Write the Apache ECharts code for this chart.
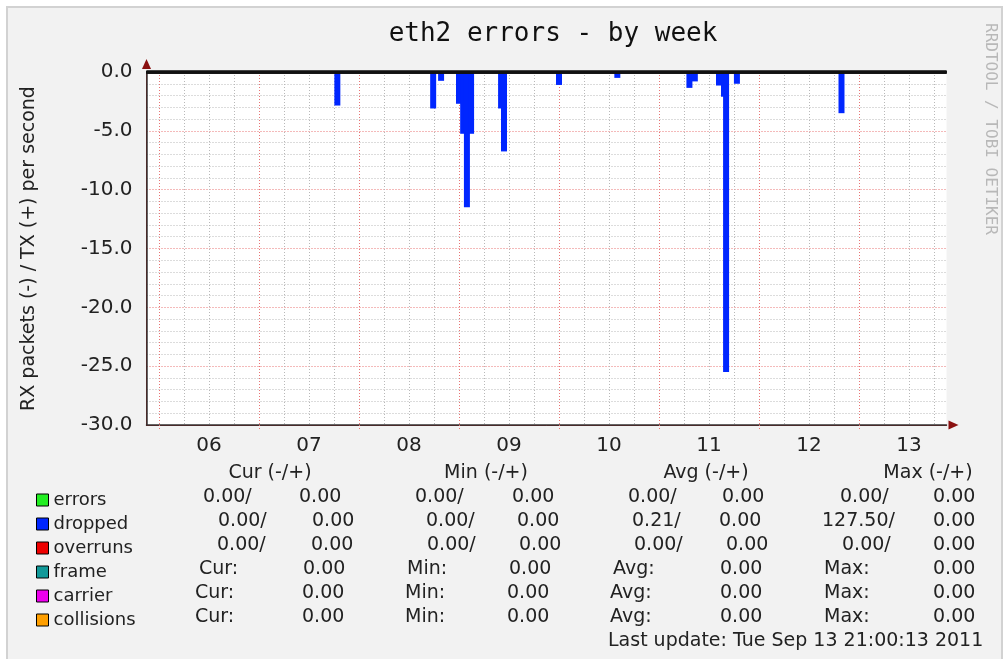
<!DOCTYPE html>
<html>
<head>
<meta charset="utf-8">
<title>eth2 errors - by week</title>
<script src="https://cdn.jsdelivr.net/npm/echarts@6/dist/echarts.min.js"></script>
<style>
    body { margin: 0; background: #fff; }
    #main { width: 1006px; height: 659px; }
</style>
</head>
<body>
<div id="main"></div>
<script>
// x = hours since Sep 06 00:00, graph shows 8 days ending Sep 13 21:00
var timeRange = [-3, 189];
var dayLabels = ['06', '07', '08', '09', '10', '11', '12', '13'];
var yTicks = [-30, 0, 5];   // min, max, step

// dropped (RX side, drawn negative)
var droppedHours  = [42.8, 65.8, 67.7, 72.0, 73.0, 73.9, 74.9, 82.1, 82.8, 96.0, 110.0, 127.3, 128.6, 134.4, 135.6, 136.1, 138.7, 163.8];
var droppedValues = [-2.85, -3.1, -0.75, -2.7, -5.25, -11.5, -5.25, -3.1, -6.75, -1.1, -0.5, -1.35, -0.8, -1.15, -2.1, -25.5, -1.0, -3.5];
var zeroValues = [0, 0];

var legendNames  = ['errors', 'dropped', 'overruns', 'frame', 'carrier', 'collisions'];
var legendColors = ['#22ee22', '#0026ff', '#ee0000', '#119999', '#ee00ee', '#ff9f00'];

var colHeaders = ['Cur (-/+)', 'Min (-/+)', 'Avg (-/+)', 'Max (-/+)'];
var tableRows = [
    ['0.00/', '0.00', '0.00/', '0.00', '0.00/', '0.00', '0.00/', '0.00'],
    ['0.00/', '0.00', '0.00/', '0.00', '0.21/', '0.00', '127.50/', '0.00'],
    ['0.00/', '0.00', '0.00/', '0.00', '0.00/', '0.00', '0.00/', '0.00'],
    ['Cur:', '0.00', 'Min:', '0.00', 'Avg:', '0.00', 'Max:', '0.00'],
    ['Cur:', '0.00', 'Min:', '0.00', 'Avg:', '0.00', 'Max:', '0.00'],
    ['Cur:', '0.00', 'Min:', '0.00', 'Avg:', '0.00', 'Max:', '0.00']
];
var lastUpdate = 'Last update: Tue Sep 13 21:00:13 2011';

// layout of the text table under the graph
var headerX = [270, 486, 706, 928];
var rowY = [497, 521, 545, 569, 593, 617];
var rowX = [
    [203, 299, 415, 512, 628, 722, 840, 933],
    [218, 312, 426, 517, 632, 719, 822, 933],
    [217, 311, 427, 519, 634, 726, 842, 933],
    [199, 303, 407, 509, 613, 720, 824, 933],
    [195, 302, 405, 507, 610, 720, 824, 933],
    [195, 302, 405, 507, 610, 720, 824, 933]
];

var FONT = 'DejaVu Sans';
var MONO = 'DejaVu Sans Mono';
var RED_GRID = '#e87474';
var GREY_GRID = '#b8b8b8';

// red line at each midnight, grey every 6h between, label at noon
var midnightHours = [];
var quarterHours = [];
var labelHours = [];
dayLabels.forEach(function (d, i) {
    midnightHours.push(i * 24);
    quarterHours.push(i * 24 + 6, i * 24 + 12, i * 24 + 18);
    labelHours.push(i * 24 + 12);
});

var droppedData = droppedHours.map(function (h, i) { return [h, droppedValues[i]]; });
var zeroData = timeRange.map(function (h, i) { return [h, zeroValues[i]]; });

var series = [];
legendNames.forEach(function (name, i) {
    if (name === 'dropped') {
        series.push({
            name: name, type: 'bar', xAxisIndex: 1, yAxisIndex: 1,
            data: droppedData, barWidth: 6,
            itemStyle: { color: legendColors[i] },
            z: 2
        });
    } else {
        series.push({
            name: name, type: 'line', xAxisIndex: 1, yAxisIndex: 1,
            data: zeroData, symbol: 'none',
            lineStyle: { color: '#111', width: 3 },
            itemStyle: { color: legendColors[i] },
            z: 3
        });
    }
});

var graphic = [
    { type: 'rect', shape: { x: 7, y: 7, width: 995, height: 660 },
      style: { fill: '#f2f2f2', stroke: '#d2d2d2', lineWidth: 2 }, z: -10 },
    { type: 'text', x: 990, y: 129, rotation: -Math.PI / 2,
      style: { text: 'RRDTOOL / TOBI OETIKER', x: 0, y: 0, align: 'center', verticalAlign: 'middle',
               font: '16px "' + MONO + '"', fill: '#b8b8b8' } },
    { type: 'text', x: 608, y: 641,
      style: { text: lastUpdate, align: 'left', verticalAlign: 'middle',
               font: '19px "' + FONT + '"', fill: '#222' } }
];
colHeaders.forEach(function (t, i) {
    graphic.push({ type: 'text', x: headerX[i], y: 473,
        style: { text: t, align: 'center', verticalAlign: 'middle', font: '19px "' + FONT + '"', fill: '#222' } });
});
tableRows.forEach(function (row, r) {
    row.forEach(function (t, c) {
        graphic.push({ type: 'text', x: rowX[r][c], y: rowY[r],
            style: { text: t, align: 'left', verticalAlign: 'middle', font: '19px "' + FONT + '"', fill: '#222' } });
    });
});

var myChart = echarts.init(document.getElementById('main'));
var option = {
    animation: false,
    backgroundColor: '#ffffff',
    textStyle: { fontFamily: FONT },
    title: {
        text: 'eth2 errors - by week',
        left: 548, top: 16, textAlign: 'center',
        textStyle: { fontFamily: MONO, fontSize: 26, fontWeight: 'normal', color: '#111' }
    },
    grid: {
        left: 146.5, right: 59.5, top: 72, bottom: 234,
        show: true, backgroundColor: '#ffffff', borderWidth: 0
    },
    legend: {
        orient: 'vertical', left: 31, top: 486,
        icon: 'rect', itemWidth: 12, itemHeight: 12, itemGap: 6,
        itemStyle: { borderColor: '#000', borderWidth: 1 },
        textStyle: { fontFamily: FONT, fontSize: 18, color: '#222' },
        selectedMode: false,
        data: legendNames.map(function (n, i) {
            return { name: n, itemStyle: { color: legendColors[i] } };
        })
    },
    xAxis: [{
        // arrow + red midnight lines (drawn first, under the main axis)
        type: 'value', min: timeRange[0], max: timeRange[1], position: 'bottom',
        axisLine: { onZero: false, symbol: ['none', 'triangle'], symbolSize: [9, 10], symbolOffset: [0, 7],
                    lineStyle: { color: '#8a1010', width: 1 } },
        axisTick: { show: true, customValues: midnightHours, length: 6,
                    lineStyle: { color: RED_GRID, type: [1, 2] } },
        axisLabel: { show: false },
        splitLine: { show: true, lineStyle: { color: RED_GRID, type: [1, 2], width: 1 } }
    }, {
        type: 'value', min: timeRange[0], max: timeRange[1], position: 'bottom',
        axisLine: { onZero: false, lineStyle: { color: '#333', width: 1.5 } },
        axisTick: { show: false, customValues: quarterHours },
        axisLabel: {
            customValues: labelHours, margin: 11,
            fontFamily: FONT, fontSize: 20, color: '#222',
            formatter: function (v) { return dayLabels[Math.round((v - 12) / 24)]; }
        },
        splitLine: { show: true, lineStyle: { color: GREY_GRID, type: [1, 2], width: 1 } }
    }],
    yAxis: [{
        type: 'value', min: yTicks[0], max: yTicks[1], interval: yTicks[2], position: 'left',
        axisLine: { show: true, onZero: false, symbol: ['none', 'triangle'], symbolSize: [9, 10], symbolOffset: [0, 8],
                    lineStyle: { color: '#8a1010', width: 1 } },
        axisTick: { show: false }, axisLabel: { show: false },
        splitLine: { show: true, lineStyle: { color: RED_GRID, type: [1, 2], width: 1 } }
    }, {
        type: 'value', min: yTicks[0], max: yTicks[1], interval: yTicks[2], position: 'left',
        name: 'RX packets (-) / TX (+) per second',
        nameLocation: 'middle', nameGap: 108,
        nameTextStyle: { fontFamily: FONT, fontSize: 19, color: '#222' },
        axisLine: { show: true, onZero: false, lineStyle: { color: '#333', width: 1.5 } },
        axisTick: { show: false },
        axisLabel: {
            margin: 14, fontFamily: FONT, fontSize: 20, color: '#222',
            formatter: function (v) { return v.toFixed(1); }
        },
        splitLine: { show: false },
        minorTick: { show: false, splitNumber: 5 },
        minorSplitLine: { show: true, lineStyle: { color: GREY_GRID, type: [1, 2], width: 1 } }
    }],
    graphic: graphic,
    series: series
};
myChart.setOption(option);
</script>
</body>
</html>
